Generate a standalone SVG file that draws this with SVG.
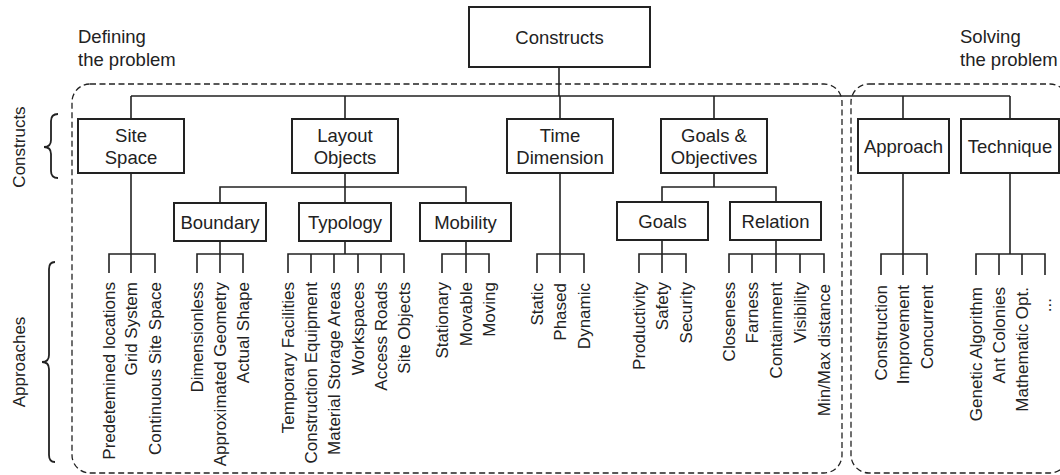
<svg xmlns="http://www.w3.org/2000/svg" width="1060" height="475" viewBox="0 0 1060 475">
<style>
.bg{fill:#fff}
.box rect{fill:#fff;stroke:#222;stroke-width:2}
.box text,.lbl{font-family:"Liberation Sans",Arial,sans-serif;font-size:18.5px;fill:#222;text-anchor:middle}
.lbl{text-anchor:start}
.leaf{font-family:"Liberation Sans",Arial,sans-serif;font-size:17px;fill:#222;text-anchor:end;dominant-baseline:central}
.side{font-family:"Liberation Sans",Arial,sans-serif;font-size:17px;fill:#222;text-anchor:middle;dominant-baseline:central}
.conn path{fill:none;stroke:#222;stroke-width:1.6}
.dash{fill:none;stroke:#222;stroke-width:1.3;stroke-dasharray:6 3.5}
.brace{fill:none;stroke:#222;stroke-width:1.8}
</style>
<rect class="bg" x="0" y="0" width="1060" height="475"/>

<g id="regions">
<rect class="dash" x="72" y="84" width="770" height="389" rx="18" ry="18"/>
<rect class="dash" x="851" y="84" width="217" height="389" rx="18" ry="18"/>
<text class="lbl" x="78" y="43">Defining</text>
<text class="lbl" x="78" y="66">the problem</text>
<text class="lbl" x="960" y="43">Solving</text>
<text class="lbl" x="960" y="66">the problem</text>
</g>

<g id="side-labels">
<path class="brace" d="M58,114 Q51,114 51,121 L51,140 Q51,147 44,147 Q51,147 51,154 L51,171 Q51,178 58,178"/>
<text class="side" transform="translate(19,147) rotate(-90)">Constructs</text>
<path class="brace" d="M55,262 Q49,262 49,269 L49,355 Q49,362 42,362 Q49,362 49,369 L49,455 Q49,462 55,462"/>
<text class="side" transform="translate(19,362) rotate(-90)">Approaches</text>
</g>

<g id="connectors" class="conn">
<path d="M559,67V96M131,96H1010M131,96V119M345,96V119M560,96V119M714,96V119M903,96V119M1010,96V119"/>
<path d="M131,173V254M109,273V254H155V273M131,254V273"/>
<path d="M345,173V203M220,203V187H466V203"/>
<path d="M220,241V254M197,273V254H243V273M220,254V273"/>
<path d="M345,241V254M288,273V254H404V273M311,254V273M334,254V273M358,254V273M381,254V273"/>
<path d="M466,241V254M442,273V254H489V273M466,254V273"/>
<path d="M560,173V254M537,273V254H584V273M560,254V273"/>
<path d="M714,173V187M662,202V187H776V202"/>
<path d="M662,240V254M639,273V254H686V273M662,254V273"/>
<path d="M776,240V254M729,273V254H824V273M752,254V273M776,254V273M800,254V273"/>
<path d="M903,173V254M881,275V254H927V275M903,254V275"/>
<path d="M1010,173V254M976,275V254H1045V275M999,254V275M1022,254V275"/>
</g>

<g id="constructs" class="box"><rect x="469" y="7" width="181" height="60"/><text x="559.5" y="43.6">Constructs</text></g>
<g id="site-space" class="box"><rect x="78" y="119" width="106" height="54"/><text x="131" y="141.6">Site</text><text x="131" y="163.6">Space</text></g>
<g id="layout-objects" class="box"><rect x="292" y="119" width="106" height="54"/><text x="345" y="141.6">Layout</text><text x="345" y="163.6">Objects</text></g>
<g id="time-dimension" class="box"><rect x="507" y="119" width="106" height="54"/><text x="560" y="141.6">Time</text><text x="560" y="163.6">Dimension</text></g>
<g id="goals-objectives" class="box"><rect x="661" y="119" width="106" height="54"/><text x="714" y="141.6">Goals &amp;</text><text x="714" y="163.6">Objectives</text></g>
<g id="approach" class="box"><rect x="858" y="119" width="91" height="54"/><text x="903.5" y="152.6">Approach</text></g>
<g id="technique" class="box"><rect x="961" y="119" width="98" height="54"/><text x="1010" y="152.6">Technique</text></g>
<g id="boundary" class="box"><rect x="174" y="203" width="92" height="38"/><text x="220" y="228.6">Boundary</text></g>
<g id="typology" class="box"><rect x="299" y="203" width="92" height="38"/><text x="345" y="228.6">Typology</text></g>
<g id="mobility" class="box"><rect x="420" y="203" width="91" height="38"/><text x="465.5" y="228.6">Mobility</text></g>
<g id="goals" class="box"><rect x="617" y="202" width="91" height="38"/><text x="662.5" y="227.6">Goals</text></g>
<g id="relation" class="box"><rect x="730" y="202" width="91" height="38"/><text x="775.5" y="227.6">Relation</text></g>

<g id="site-leaves">
<text class="leaf" transform="translate(109,282) rotate(-90)">Predetemined locations</text>
<text class="leaf" transform="translate(131,282) rotate(-90)">Grid System</text>
<text class="leaf" transform="translate(155,282) rotate(-90)">Continuous Site Space</text>
</g>
<g id="boundary-leaves">
<text class="leaf" transform="translate(197,282) rotate(-90)">Dimensionless</text>
<text class="leaf" transform="translate(220,282) rotate(-90)">Approximated Geometry</text>
<text class="leaf" transform="translate(243,282) rotate(-90)">Actual Shape</text>
</g>
<g id="typology-leaves">
<text class="leaf" transform="translate(288,282) rotate(-90)">Temporary Facilities</text>
<text class="leaf" transform="translate(311,282) rotate(-90)">Construction Equipment</text>
<text class="leaf" transform="translate(334,282) rotate(-90)">Material Storage Areas</text>
<text class="leaf" transform="translate(358,282) rotate(-90)">Workspaces</text>
<text class="leaf" transform="translate(381,282) rotate(-90)">Access Roads</text>
<text class="leaf" transform="translate(404,282) rotate(-90)">Site Objects</text>
</g>
<g id="mobility-leaves">
<text class="leaf" transform="translate(442,282) rotate(-90)">Stationary</text>
<text class="leaf" transform="translate(466,282) rotate(-90)">Movable</text>
<text class="leaf" transform="translate(489,282) rotate(-90)">Moving</text>
</g>
<g id="time-leaves">
<text class="leaf" transform="translate(537,283) rotate(-90)">Static</text>
<text class="leaf" transform="translate(560,283) rotate(-90)">Phased</text>
<text class="leaf" transform="translate(584,283) rotate(-90)">Dynamic</text>
</g>
<g id="goals-leaves">
<text class="leaf" transform="translate(639,282) rotate(-90)">Productivity</text>
<text class="leaf" transform="translate(662,282) rotate(-90)">Safety</text>
<text class="leaf" transform="translate(686,282) rotate(-90)">Security</text>
</g>
<g id="relation-leaves">
<text class="leaf" transform="translate(729,282) rotate(-90)">Closeness</text>
<text class="leaf" transform="translate(752,282) rotate(-90)">Farness</text>
<text class="leaf" transform="translate(776,282) rotate(-90)">Containment</text>
<text class="leaf" transform="translate(800,282) rotate(-90)">Visibility</text>
<text class="leaf" transform="translate(824,284) rotate(-90)">Min/Max distance</text>
</g>
<g id="approach-leaves">
<text class="leaf" transform="translate(881,285) rotate(-90)">Construction</text>
<text class="leaf" transform="translate(903,285) rotate(-90)">Improvement</text>
<text class="leaf" transform="translate(927,285) rotate(-90)">Concurrent</text>
</g>
<g id="technique-leaves">
<text class="leaf" transform="translate(976,287) rotate(-90)">Genetic Algorithm</text>
<text class="leaf" transform="translate(999,287) rotate(-90)">Ant Colonies</text>
<text class="leaf" transform="translate(1022,287) rotate(-90)">Mathematic Opt.</text>
<text class="leaf" transform="translate(1045,298) rotate(-90)">...</text>
</g>
</svg>
